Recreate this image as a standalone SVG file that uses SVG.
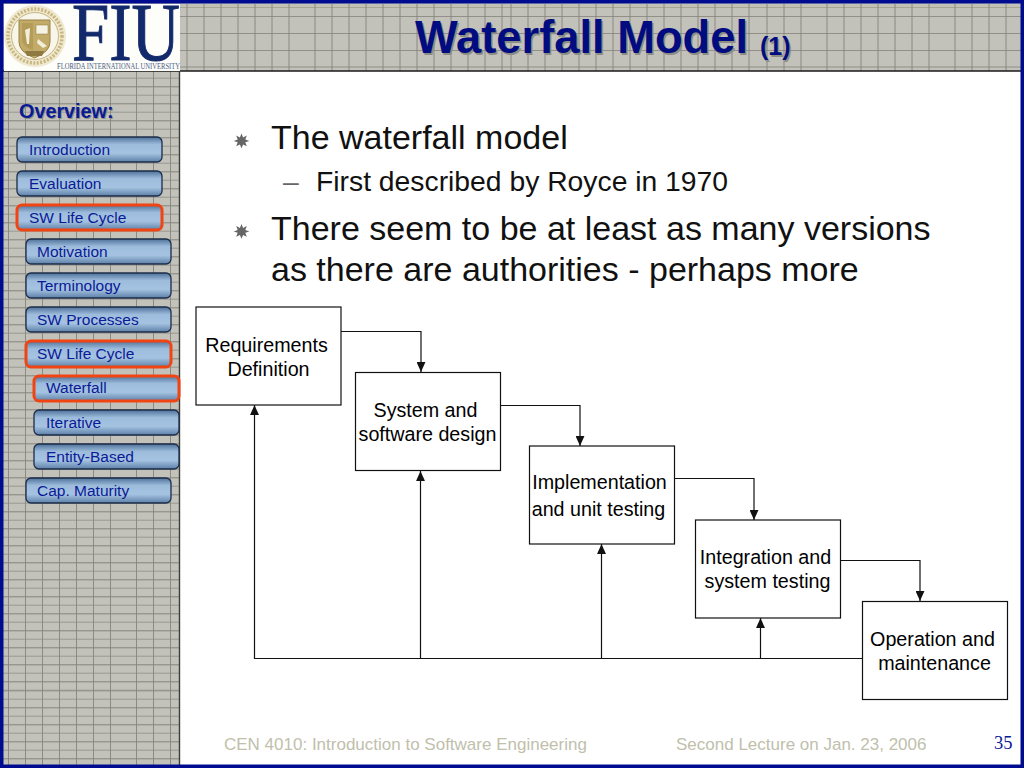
<svg xmlns="http://www.w3.org/2000/svg" width="1024" height="768" viewBox="0 0 1024 768">
<style>
.s{font-family:"Liberation Sans",Arial,sans-serif}
.nav{font-family:"Liberation Sans",Arial,sans-serif;font-size:15.500px;fill:#0a1a96}
.nb{fill:url(#btn);stroke:#1c2c48;stroke-width:1.300}
.hl{fill:none;stroke:#f04412;stroke-width:3}
.box{fill:#fff;stroke:#111;stroke-width:1.200}
.bt{font-family:"Liberation Sans",Arial,sans-serif;font-size:19.700px;fill:#000;text-anchor:middle}
.body1{font-family:"Liberation Sans",Arial,sans-serif;font-size:34px;fill:#111}
.body2{font-family:"Liberation Sans",Arial,sans-serif;font-size:28.300px;fill:#111}
.foot{font-family:"Liberation Sans",Arial,sans-serif;font-size:17px;fill:#c0c0ac}
.c{fill:none;stroke:#111;stroke-width:1.200}
.v{fill:none;stroke:#85857d;stroke-width:.9}
</style>
<defs>
<pattern id="rows" width="17" height="17" patternUnits="userSpaceOnUse" x="0" y="86">
<rect width="17" height="17" fill="#c2c2bb"/>
<path d="M0 .7H17" stroke="#97978f" stroke-width="1.500"/>
<path d="M0 9.200H17" stroke="#8e8e86" stroke-width=".8"/>
</pattern>
<pattern id="rows2" width="17" height="17" patternUnits="userSpaceOnUse" x="0" y="707">
<rect width="17" height="17" fill="#c2c2bb"/>
<path d="M0 .7H17" stroke="#97978f" stroke-width="1.500"/>
<path d="M0 9.200H17" stroke="#8e8e86" stroke-width=".8"/>
</pattern>
<linearGradient id="btn" x1="0" y1="0" x2="0" y2="1">
<stop offset="0" stop-color="#4f7199"/><stop offset=".3" stop-color="#9dbcdc"/><stop offset=".65" stop-color="#a5c3e1"/><stop offset="1" stop-color="#5d80a8"/>
</linearGradient>
<marker id="arrow" markerUnits="userSpaceOnUse" markerWidth="10" markerHeight="9" refX="9" refY="4" orient="auto" viewBox="0 0 9 8">
<path d="M0 0L9 4L0 8Z" fill="#111"/>
</marker>
</defs>

<rect width="1024" height="768" fill="#fff"/>
<rect x="0" y="0" width="1024" height="71" fill="#c2c2bb"/>
<path d="M180 7.500H1024" stroke="#a8a890" stroke-width="1"/>
<path d="M180 16.500H1024M180 33.500H1024M180 50.500H1024M180 67H1024" stroke="#8a8a82" stroke-width=".9"/>
<rect x="0" y="71" width="180" height="619" fill="url(#rows)"/>
<rect x="0" y="690" width="180" height="78" fill="url(#rows2)"/>
<path class="v" d="M187 4V71M204 4V71M221 4V71M238 4V71M255 4V71M272 4V71M289 4V71M315 4V71M332 4V71M349 4V71M366 4V71M383 4V71M400 4V71M417 4V71M434 4V71M451 4V71M468 4V71M485 4V71M502 4V71M511 4V71M528 4V71M545 4V71M562 4V71M579 4V71M596 4V71M613 4V71M630 4V71M647 4V71M664 4V71M681 4V71M698 4V71M715 4V71M732 4V71M749 4V71M767 4V71M784 4V71M801 4V71M827 4V71M844 4V71M861 4V71M878 4V71M895 4V71M912 4V71M929 4V71M955 4V71M972 4V71M989 4V71M1006 4V71"/>
<path class="v" d="M8.500 71V768M25.500 71V768M42.500 71V768M59.500 71V768M76.500 71V768M93.500 71V768M110.500 71V768M136.500 71V768M153.500 71V768M170.500 71V768"/>
<path d="M0 71H1024" stroke="#1a1a1a" stroke-width="1.400" fill="none"/>
<path d="M179.500 71V768" stroke="#3c3c38" stroke-width="1.400" fill="none"/>
<rect x="1.750" y="1.750" width="1020.500" height="764.500" fill="none" stroke="#000c90" stroke-width="3.500"/>

<g id="logo">
<rect x="4" y="4" width="176" height="67" fill="#fdfdfa"/>
<circle cx="35" cy="36" r="31" fill="#efe9d2"/>
<circle cx="35" cy="36" r="27" fill="none" stroke="#c9b67e" stroke-width="3.500" stroke-dasharray="2 1.500"/>
<circle cx="35" cy="36" r="23.500" fill="#f8f5ea" stroke="#c8b680" stroke-width="1"/>
<path d="M19 20H50V42Q50 52 34.500 58Q19 52 19 42Z" fill="#c2ab68" stroke="#9a8548" stroke-width="1"/>
<path d="M22 23H33V50Q26 48 22 42Z" fill="#b39c58"/>
<rect x="36" y="25" width="12" height="9" fill="#f6f2e4" stroke="#8e7a40" stroke-width=".5"/>
<path d="M25 30L30 28L29 44L27 44Z" fill="#f3eeda"/>
<path d="M38 39L47 46L43 48L37 43Z" fill="#f3eeda"/>
<path d="M25 51H44L42 56H27Z" fill="#8e7a40"/>
<text x="72" y="60" font-family="Liberation Serif,serif" font-size="83" fill="#12296b" stroke="#12296b" stroke-width="1" textLength="108" lengthAdjust="spacingAndGlyphs">FIU</text>
<text x="57" y="69" font-family="Liberation Serif,serif" font-size="7.500" fill="#4a5a80" textLength="123" lengthAdjust="spacingAndGlyphs">FLORIDA INTERNATIONAL UNIVERSITY</text>
</g>

<g id="title">
<text x="415" y="53" class="s" font-size="45.300" font-weight="700" fill="#8d8d86" transform="translate(1.500 1.500)">Waterfall Model</text>
<text x="760" y="55" class="s" font-size="25" font-weight="700" fill="#8d8d86" transform="translate(1.500 1.500)">(1)</text>
<text x="415" y="53" class="s" font-size="45.300" font-weight="700" fill="#000c80">Waterfall Model</text>
<text x="760" y="55" class="s" font-size="25" font-weight="700" fill="#000c80">(1)</text>
</g>

<g id="nav-overview">
<text x="19" y="118" class="s" font-size="19.800" font-weight="700" fill="#8d8d86" transform="translate(1 1)">Overview:</text>
<text x="19" y="118" class="s" font-size="19.800" font-weight="700" fill="#0a1a96">Overview:</text>
</g>
<g id="nav-introduction"><rect class="nb" x="17" y="137" width="145" height="25" rx="5"/><text class="nav" x="29" y="155">Introduction</text></g>
<g id="nav-evaluation"><rect class="nb" x="17" y="171" width="145" height="25" rx="5"/><text class="nav" x="29" y="189">Evaluation</text></g>
<g id="nav-swlifecycle"><rect class="nb" x="17" y="205" width="145" height="25" rx="5" style="stroke:none"/><rect class="hl" x="17" y="205" width="145" height="25" rx="5"/><text class="nav" x="29" y="223">SW Life Cycle</text></g>
<g id="nav-motivation"><rect class="nb" x="26" y="239" width="145" height="25" rx="5"/><text class="nav" x="37" y="257">Motivation</text></g>
<g id="nav-terminology"><rect class="nb" x="26" y="273" width="145" height="25" rx="5"/><text class="nav" x="37" y="291">Terminology</text></g>
<g id="nav-swprocesses"><rect class="nb" x="26" y="307" width="145" height="25" rx="5"/><text class="nav" x="37" y="325">SW Processes</text></g>
<g id="nav-swlifecycle2"><rect class="nb" x="26" y="341" width="145" height="26" rx="5" style="stroke:none"/><rect class="hl" x="26" y="341" width="145" height="26" rx="5"/><text class="nav" x="37" y="359">SW Life Cycle</text></g>
<g id="nav-waterfall"><rect class="nb" x="34" y="376" width="145" height="25" rx="5" style="stroke:none"/><rect class="hl" x="34" y="376" width="145" height="25" rx="5"/><text class="nav" x="46" y="393">Waterfall</text></g>
<g id="nav-iterative"><rect class="nb" x="34" y="410" width="145" height="25" rx="5"/><text class="nav" x="46" y="428">Iterative</text></g>
<g id="nav-entity"><rect class="nb" x="34" y="444" width="145" height="25" rx="5"/><text class="nav" x="46" y="462">Entity-Based</text></g>
<g id="nav-capmaturity"><rect class="nb" x="26" y="478" width="145" height="25" rx="5"/><text class="nav" x="37" y="496">Cap. Maturity</text></g>

<g id="bullets">
<path id="b1" d="M241.500 133.500l1.600 3.900 3.700-1.800-1.500 3.900 4 1.400-4 1.400 1.500 3.900-3.700-1.800-1.600 3.900-1.600-3.900-3.700 1.800 1.500-3.900-4-1.400 4-1.400-1.500-3.900 3.700 1.800z" fill="#666"/>
<path id="b2" d="M241.500 224l1.600 3.900 3.700-1.800-1.500 3.900 4 1.400-4 1.400 1.500 3.900-3.700-1.800-1.600 3.900-1.600-3.900-3.700 1.800 1.500-3.900-4-1.400 4-1.400-1.500-3.900 3.700 1.800z" fill="#666"/>
<text class="body1" x="271" y="149">The waterfall model</text>
<text class="s" x="283" y="191" font-size="28.300" fill="#666">–</text>
<text class="body2" x="316" y="191">First described by Royce in 1970</text>
<text class="body1" x="271" y="240">There seem to be at least as many versions</text>
<text class="body1" x="271" y="281">as there are authorities - perhaps more</text>
</g>

<g id="connectors">
<path class="c" d="M341 331.500H421V372" marker-end="url(#arrow)"/>
<path class="c" d="M500 405.500H580V446" marker-end="url(#arrow)"/>
<path class="c" d="M674 478.500H754V520" marker-end="url(#arrow)"/>
<path class="c" d="M840 560.500H920V601" marker-end="url(#arrow)"/>
<path class="c" d="M862 658.500H254.500V405" marker-end="url(#arrow)"/>
<path class="c" d="M420.500 658.500V471" marker-end="url(#arrow)"/>
<path class="c" d="M601.500 658.500V544" marker-end="url(#arrow)"/>
<path class="c" d="M760.500 658.500V618" marker-end="url(#arrow)"/>
</g>

<g id="node-requirements"><rect class="box" x="196" y="307" width="145" height="98"/><text class="bt" x="266.500" y="351.500">Requirements</text><text class="bt" x="268.500" y="375.500">Definition</text></g>
<g id="node-design"><rect class="box" x="355.500" y="372.500" width="145" height="98"/><text class="bt" x="425.500" y="417">System and</text><text class="bt" x="427.500" y="441">software design</text></g>
<g id="node-implementation"><rect class="box" x="529.500" y="446" width="145" height="98"/><text class="bt" x="599.500" y="489">Implementation</text><text class="bt" x="598.500" y="515.500">and unit testing</text></g>
<g id="node-integration"><rect class="box" x="695.500" y="520" width="145" height="98"/><text class="bt" x="765.500" y="564">Integration and</text><text class="bt" x="767.500" y="588">system testing</text></g>
<g id="node-operation"><rect class="box" x="862.500" y="601.500" width="145" height="98"/><text class="bt" x="932.500" y="646">Operation and</text><text class="bt" x="934.500" y="670">maintenance</text></g>

<g id="footer">
<text class="foot" x="224" y="750">CEN 4010: Introduction to Software Engineering</text>
<text class="foot" x="676" y="750">Second Lecture on Jan. 23, 2006</text>
<text x="994" y="749" font-family="Liberation Serif,serif" font-size="18.500" fill="#0a1a96">35</text>
</g>
</svg>
